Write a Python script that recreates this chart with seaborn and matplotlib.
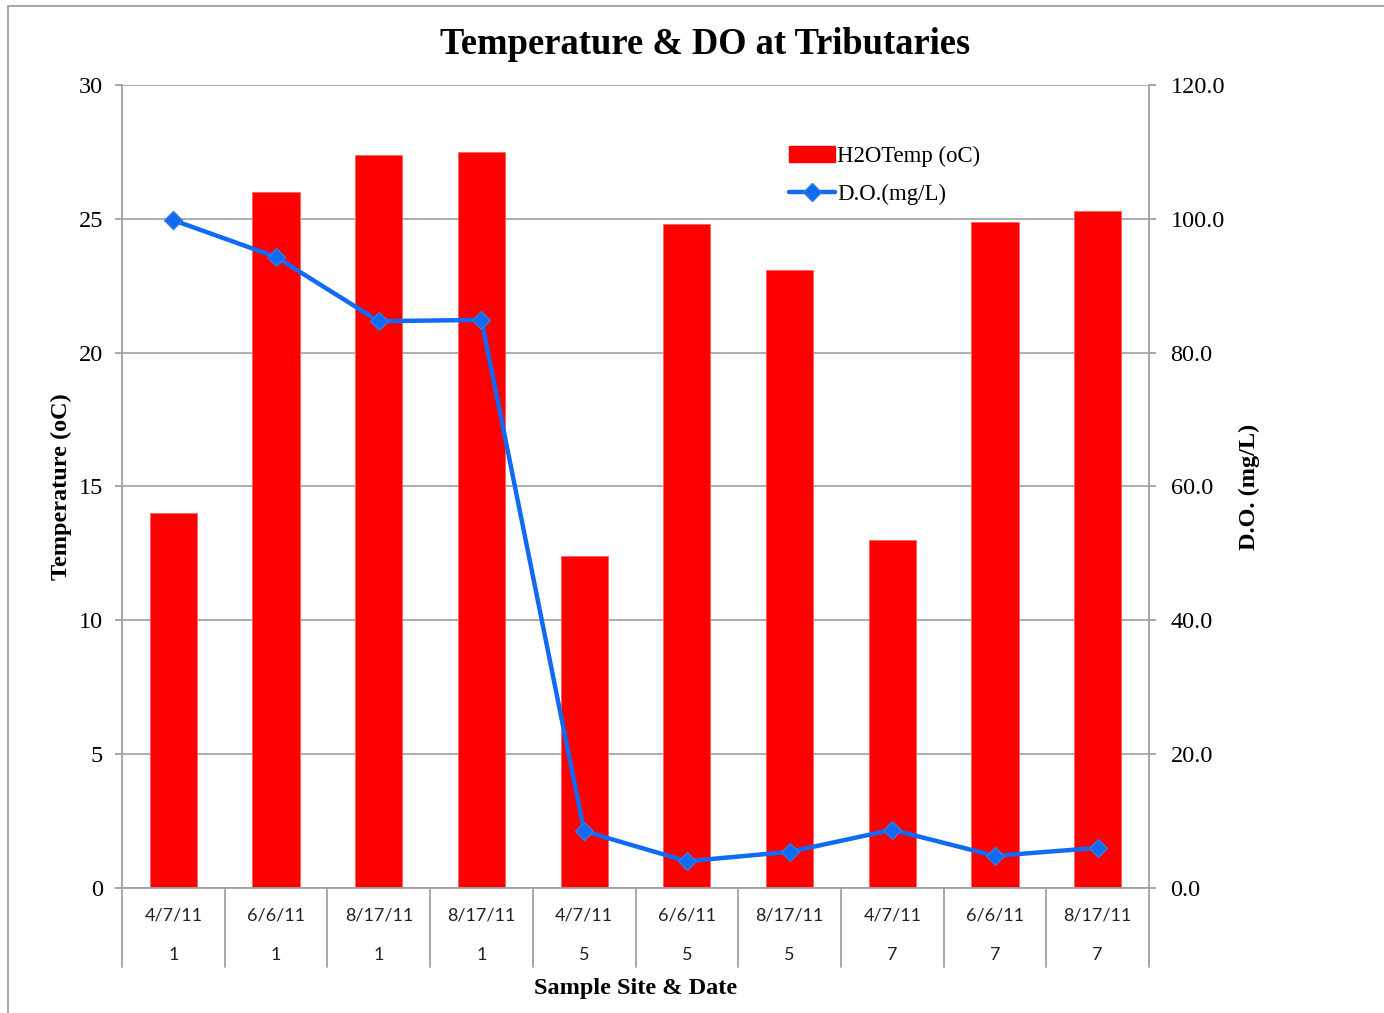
import matplotlib
matplotlib.use("Agg")
import matplotlib.pyplot as plt
import matplotlib.transforms as mtransforms
from matplotlib.lines import Line2D
from matplotlib.patches import Patch
import seaborn as sns
import pandas as pd
import numpy as np

# Sample dates and tributary sites
dates = ["4/7/11", "6/6/11", "8/17/11", "8/17/11", "4/7/11", "6/6/11", "8/17/11", "4/7/11", "6/6/11", "8/17/11"]
sites = ["1", "1", "1", "1", "5", "5", "5", "7", "7", "7"]
# Water temperature (oC) and dissolved oxygen (mg/L)
h2o_temp = [14.0, 26.0, 27.4, 27.5, 12.4, 24.8, 23.1, 13.0, 24.9, 25.3]
do_mgl = [99.8, 94.3, 84.7, 84.9, 8.5, 4.0, 5.4, 8.7, 4.8, 6.0]

df = pd.DataFrame({"pos": np.arange(len(dates)), "temp": h2o_temp, "do": do_mgl})

sns.set_style("white")
serif = ["Liberation Serif", "DejaVu Serif"]
plt.rcParams["font.family"] = serif
plt.rcParams["text.color"] = "black"
plt.rcParams["axes.labelcolor"] = "black"
plt.rcParams["ytick.color"] = "black"

W, H = 1384, 1013
fig = plt.figure(figsize=(W / 100, H / 100), dpi=100)
ax = fig.add_axes([122 / W, (H - 888) / H, (1149 - 122) / W, (888 - 85) / H])

grid_c = "#a0a0a0"
red = "#ff0000"
blue = "#0f6af5"
sans = ["Lato", "DejaVu Sans"]

sns.barplot(data=df, x="pos", y="temp", color=red, saturation=1, width=0.46,
            edgecolor="#ff6060", linewidth=0.6, ax=ax, zorder=2)

ax.set_ylim(0, 30)
ax.set_xlim(-0.5, len(dates) - 0.5)
ax.set_yticks(np.arange(0, 31, 5))
ax.yaxis.grid(True, color=grid_c, linewidth=1.2, zorder=0)
ax.set_axisbelow(True)
for side in ["left", "right", "bottom"]:
    ax.spines[side].set_color(grid_c)
    ax.spines[side].set_linewidth(1.3)
ax.spines["top"].set_visible(False)
ax.tick_params(axis="y", which="major", length=5, width=1.3, color=grid_c,
               labelsize=17.5, pad=8.5, labelcolor="black")
ax.set_ylabel("Temperature (oC)", fontsize=17.5, fontweight="bold", labelpad=5)

# Two-row category axis: date above, site number below
ax.set_xticks(df["pos"])
ax.set_xticklabels(dates, fontfamily=sans, fontsize=13)
ax.tick_params(axis="x", length=0, pad=14, labelcolor="#222222")
trans = mtransforms.blended_transform_factory(ax.transData, ax.transAxes)
for p, s in zip(df["pos"], sites):
    ax.text(p, -0.083, s, transform=trans, ha="center", va="center",
            fontfamily=sans, fontsize=13, color="#222222")
for b in np.arange(len(dates) + 1) - 0.5:
    ax.add_line(Line2D([b, b], [0, -0.098], transform=trans, color=grid_c,
                       linewidth=1.3, clip_on=False))
ax.set_xlabel("Sample Site & Date", fontsize=17.5, fontweight="bold", labelpad=39)

# Dissolved oxygen on the secondary axis
ax2 = ax.twinx()
sns.lineplot(data=df, x="pos", y="do", color=blue, linewidth=3.2, marker="D",
             markersize=9.5, markeredgecolor="#3a7ad0", markeredgewidth=1.0,
             ax=ax2, zorder=3)
ax2.set_ylim(0, 120)
ax2.set_yticks(np.arange(0, 121, 20))
ax2.set_yticklabels([f"{v:.1f}" for v in np.arange(0, 121, 20)])
ax2.tick_params(axis="y", length=5, width=1.3, color=grid_c, labelsize=17.5, pad=10.5,
                labelcolor="black")
ax2.set_ylabel("D.O. (mg/L)", fontsize=17.5, fontweight="bold", labelpad=10)
for side in ["left", "right", "bottom", "top"]:
    ax2.spines[side].set_visible(False)
ax2.set_xlim(ax.get_xlim())

fig.text(705 / W, 1 - 44 / H, "Temperature & DO at Tributaries", fontsize=26.3,
         fontweight="bold", ha="center", va="center", color="black")

handles = [Patch(facecolor=red, edgecolor=red, label="H2OTemp (oC)"),
           Line2D([0], [0], color=blue, linewidth=3.2, marker="D", markersize=9,
                  markeredgecolor="#3a7ad0", label="D.O.(mg/L)")]
ax2.legend(handles=handles, loc="upper left", bbox_to_anchor=(0.641, 0.936), frameon=False,
           fontsize=16.4, handlelength=2.0, handletextpad=0.1, labelspacing=0.75,
           borderaxespad=0)

# Outer chart frame
fig.add_artist(Line2D([8 / W, 8 / W], [0, 1 - 6 / H], color=grid_c, linewidth=1.3))
fig.add_artist(Line2D([8 / W, 1], [1 - 6 / H, 1 - 6 / H], color=grid_c, linewidth=1.3))

fig.savefig("out.png", dpi=100, facecolor="white")
